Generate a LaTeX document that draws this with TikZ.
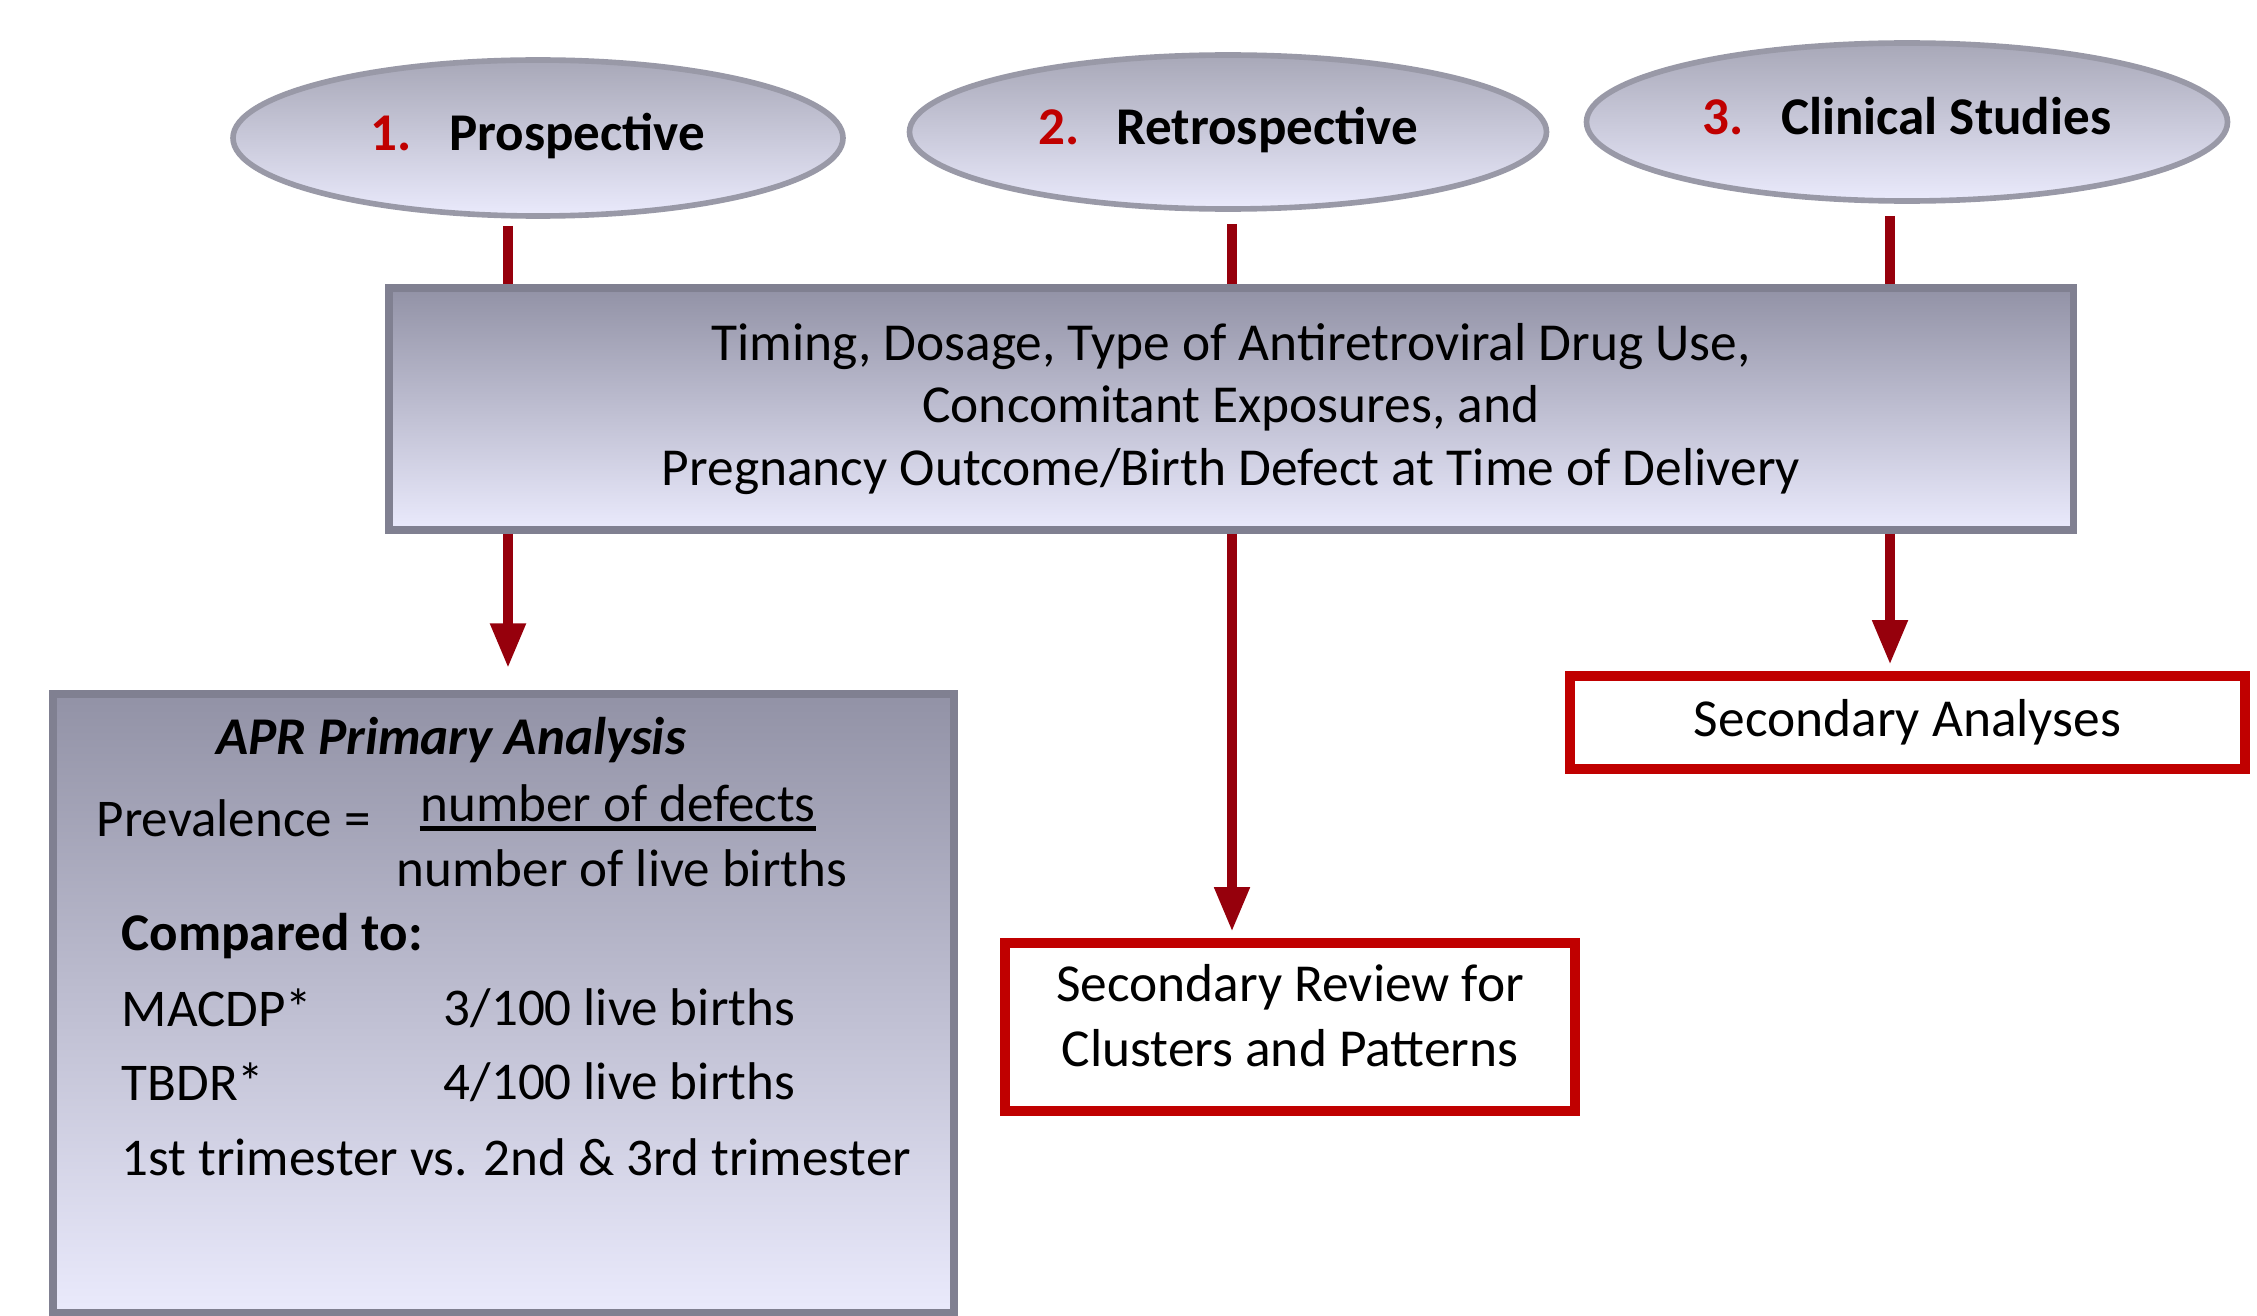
\documentclass[tikz,border=0pt]{standalone}
\usepackage{fontspec}
\setmainfont{Carlito}
\usetikzlibrary{arrows.meta,shapes.geometric}
\definecolor{aprred}{RGB}{192,0,0}
\definecolor{linkred}{RGB}{150,0,12}
\definecolor{lavtop}{RGB}{146,146,166}
\definecolor{lavbot}{RGB}{234,234,252}
\definecolor{bevel}{RGB}{128,128,145}

\begin{document}
\begin{tikzpicture}[
    oval/.style={ellipse, draw=bevel!80, line width=1.6pt, top color=lavtop!80!white, bottom color=lavbot,
        minimum width=6.1cm, minimum height=1.56cm, inner sep=0pt, text depth=0.12cm,
        font=\fontsize{15.1}{18}\selectfont\bfseries},
    panel/.style={rectangle, draw=bevel, line width=2pt, top color=lavtop, bottom color=lavbot},
    redbox/.style={rectangle, draw=aprred, line width=2.8pt, fill=white, align=center,
        font=\fontsize{15.2}{18.4}\selectfont},
    aprtext/.style={inner sep=0pt, font=\fontsize{15.1}{18}\selectfont},
    stub/.style={linkred, line width=3pt},
    link/.style={linkred, line width=3pt, -{Triangle[width=3.3mm,length=4.5mm]}},
]
    \useasboundingbox (0,0) rectangle (22.57,13.15);

    % the three sources
    \node[oval] (pro) at (5.38,11.77) {\textcolor{aprred}{1.}\hspace{0.7em}Prospective};
    \node[oval, minimum width=6.37cm, minimum height=1.54cm] (retro) at (12.28,11.83) {\textcolor{aprred}{2.}\hspace{0.7em}Retrospective};
    \node[oval, minimum width=6.41cm, minimum height=1.58cm] (clin) at (19.07,11.93) {\textcolor{aprred}{3.}\hspace{0.7em}Clinical Studies};

    \node[panel, minimum width=16.84cm, minimum height=2.42cm, align=center,
        font=\fontsize{15.2}{17.9}\selectfont] (use) at (12.31,9.06)
        {Timing, Dosage, Type of Antiretroviral Drug Use,\\Concomitant Exposures, and\\Pregnancy Outcome/Birth Defect at Time of Delivery};

    % primary analysis box
    \node[panel, minimum width=9.01cm, minimum height=6.19cm] (apr) at (5.035,3.115) {};
    \node[aprtext, font=\fontsize{15.1}{18}\selectfont\bfseries\itshape] (aprtitle) at (4.51,5.75) {APR Primary Analysis};
    \node[aprtext, anchor=west] (prev) at (0.96,4.97) {Prevalence =};
    \node[aprtext] (num) at (6.18,5.12) {number of defects};
    \draw[line width=1.3pt] ([yshift=-0.6mm]num.south west) -- ([yshift=-0.6mm]num.south east);
    \node[aprtext] (den) at (6.22,4.47) {number of live births};
    \node[aprtext, anchor=west, font=\fontsize{15.1}{18}\selectfont\bfseries] (cmp) at (1.21,3.79) {Compared to:};
    \node[aprtext, anchor=west] (macdp) at (1.21,3.07) {MACDP*};
    \node[aprtext, anchor=west] (mval) at (4.43,3.07) {3/100 live births};
    \node[aprtext, anchor=west] (tbdr) at (1.21,2.33) {TBDR*};
    \node[aprtext, anchor=west] (tval) at (4.43,2.33) {4/100 live births};
    \node[aprtext, anchor=west] (tri) at (1.21,1.58) {1st trimester vs. 2nd \& 3rd trimester};

    \node[redbox, minimum width=5.7cm, minimum height=1.68cm, text depth=0.23cm] (review) at (12.90,2.88) {Secondary Review for\\Clusters and Patterns};
    \node[redbox, minimum width=6.75cm, minimum height=0.93cm] (second) at (19.075,5.925) {Secondary Analyses};

    % connectors
    \coordinate (x1) at (5.08,0);
    \coordinate (x2) at (12.32,0);
    \coordinate (x3) at (18.90,0);
    \draw[stub] (pro.south -| x1) ++(0,-0.07) -- (use.north -| x1);
    \draw[stub] (retro.south -| x2) ++(0,-0.12) -- (use.north -| x2);
    \draw[stub] (clin.south -| x3) ++(0,-0.12) -- (use.north -| x3);
    \draw[link, shorten >=2.2mm] (use.south -| x1) -- (apr.north -| x1);
    \draw[link, shorten >=0.6mm] (use.south -| x2) -- (review.north -| x2);
    \draw[link, shorten >=0.6mm] (use.south -| x3) -- (second.north -| x3);
\end{tikzpicture}
\end{document}
